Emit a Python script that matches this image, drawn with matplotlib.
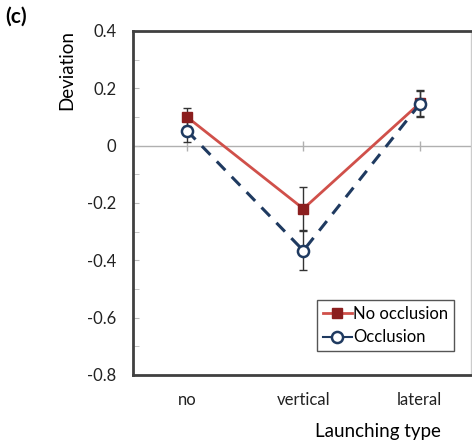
import matplotlib.pyplot as plt
import numpy as np

plt.rcParams['font.family'] = ['Lato', 'DejaVu Sans']

categories = ['no', 'vertical', 'lateral']
no_occ = [0.10, -0.22, 0.148]
no_occ_err = [0.03, 0.075, 0.045]
occ = [0.052, -0.366, 0.145]
occ_err = [0.04, 0.068, 0.045]

red_line = '#D0504A'
red_mark = '#8B1E1E'
navy = '#1F3A60'

fig = plt.figure(figsize=(4.72, 4.46), dpi=100)
ax = fig.add_axes([0.2818, 0.1592, 0.716, 0.7713])

x = np.arange(len(categories))

ax.axhline(0, color='#b0b0b0', lw=1, zorder=1)
ax.plot(x, np.zeros(len(x)), ls='none', marker='|', ms=7, color='#b0b0b0', zorder=1)

ax.errorbar(x, occ, yerr=occ_err, fmt='none', ecolor='#333333', elinewidth=1, capsize=3, zorder=2)
ax.errorbar(x, no_occ, yerr=no_occ_err, fmt='none', ecolor='#333333', elinewidth=1, capsize=3, zorder=2)

ax.plot(x, no_occ, color=red_line, lw=2, marker='s', ms=7, mfc=red_mark, mec=red_mark,
        label='No occlusion', zorder=3)
ax.plot(x, occ, color=navy, lw=2.2, ls=(0, (4, 3)), marker='o', ms=8, mfc='white', mec=navy,
        mew=1.8, label='Occlusion', zorder=4)

ax.set_xlim(-0.464, 2.44)
ax.set_ylim(-0.8, 0.4)
ax.set_xticks(x)
ax.set_xticklabels(categories, fontsize=12, color='#222222')
ax.tick_params(axis='x', length=0, pad=12)
ax.set_yticks(np.arange(-0.8, 0.41, 0.2))
ax.set_yticklabels(['-0.8', '-0.6', '-0.4', '-0.2', '0', '0.2', '0.4'], fontsize=12, color='#222222')
ax.set_yticks(np.arange(-0.8, 0.41, 0.1), minor=True)
ax.tick_params(axis='y', which='both', direction='in', length=4, color='#bbbbbb', pad=12)

for side in ['left', 'bottom', 'top']:
    ax.spines[side].set_linewidth(2)
    ax.spines[side].set_color('#404040')
ax.spines['right'].set_color('#cccccc')
ax.spines['right'].set_linewidth(1)

leg = ax.legend(loc='lower right', bbox_to_anchor=(0.975, 0.045), fontsize=12, handlelength=1.7,
                handletextpad=0.1, borderpad=0.35, labelspacing=0.45, fancybox=False,
                framealpha=1, edgecolor='#555555')
leg.get_frame().set_linewidth(1)
leg.legend_handles[1].set_linestyle('-')
leg.legend_handles[1].set_linewidth(1.5)

fig.text(0.011, 0.962, '(c)', fontsize=15, fontweight='bold', va='center', ha='left')
fig.text(0.142, 0.843, 'Deviation', fontsize=13.5, rotation=90, va='center', ha='center')
fig.text(0.8, 0.032, 'Launching type', fontsize=13.5, va='center', ha='center')

fig.savefig('out.png', dpi=100)
